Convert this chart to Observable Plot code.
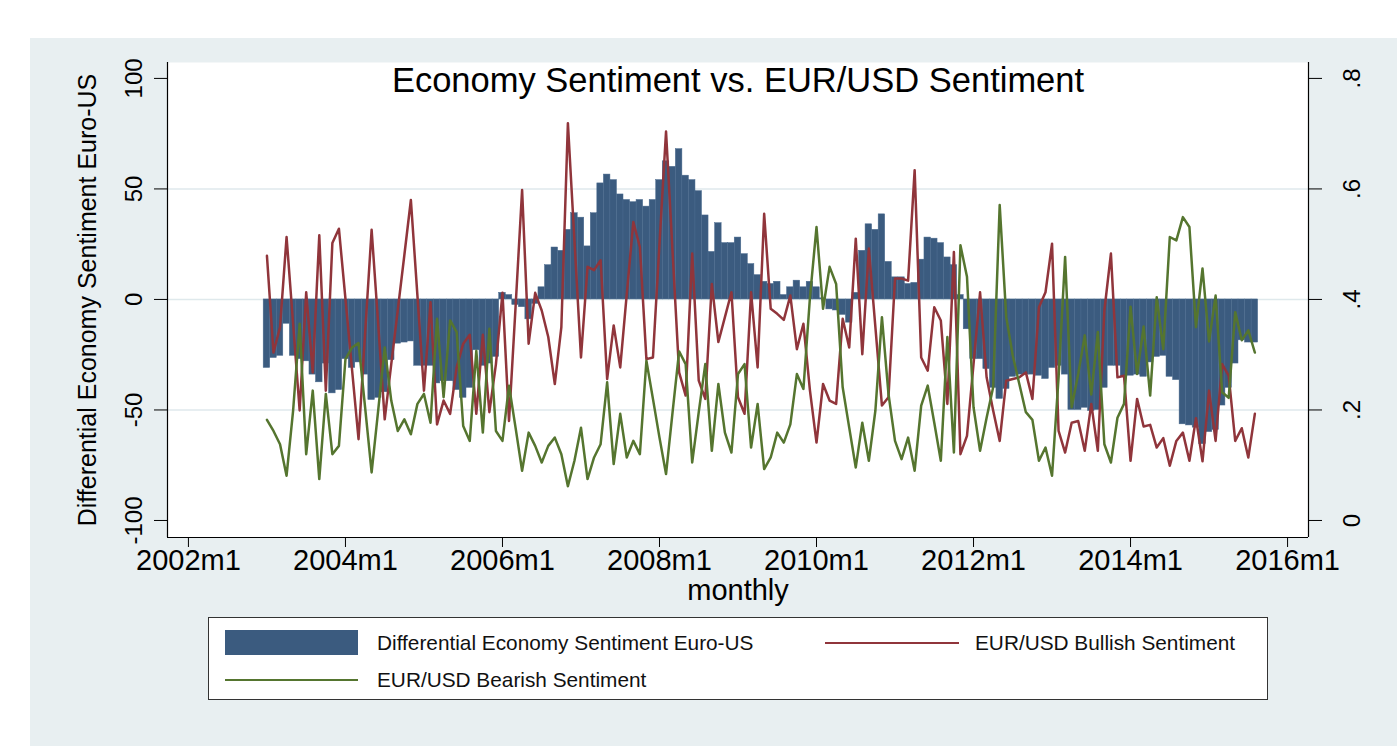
<!DOCTYPE html>
<html><head><meta charset="utf-8">
<script src="https://cdn.jsdelivr.net/npm/d3@7"></script>
<script src="https://cdn.jsdelivr.net/npm/@observablehq/plot@0.6"></script>
<style>
html,body{margin:0;padding:0;background:#fff;width:1397px;height:746px;overflow:hidden;font-family:"Liberation Sans",Arial,sans-serif;}
#panel{position:absolute;left:30px;top:38px;width:1367px;height:708px;background:#e8eff1;}
#chart{position:absolute;left:0;top:0;}
#legend{position:absolute;left:208px;top:617px;width:1058px;height:81px;background:#fff;border:1px solid #333;}
.sw{position:absolute;}
.lt{position:absolute;font-size:20.8px;line-height:22px;color:#111;white-space:nowrap;transform:translateY(-50%);}
</style></head><body>
<div id="panel"></div>
<div id="chart"></div>
<div id="legend"></div>
<script>
// ---- data (monthly, 2003m1 .. 2015m8) ----
const startYear = 2003;
const diffSentiment = [-31,-26.5,-25.5,-11,-25.5,-27,-28,-34,-37.5,-29,-42.5,-41,
 -27,-31,-28.5,-34,-45.5,-44.5,-42,-27.5,-20,-19.5,-19,-30,
 -30,-30,-38,-37,-37,-41,-44.5,-40,-23,-30,-29,-26,
 3,2,-2.5,-3.5,-9,-2,5.5,15.5,23.5,22,31.5,39,
 37,24,39,52.5,56.5,54,47.5,45,44,45,42,45,
 54,62.5,60,68,56,54,49,38,21.5,34.5,25.5,25.5,
 28,20.5,16,11,8,7,8,2,5.5,8.5,5.5,8,
 5.5,0.5,-4.5,-5,-7,-10.5,3,22,34,31.5,38.5,17,
 10,10,7,7.5,18,28,27.5,25.5,19,15.5,2,-13.5,
 -27,-27,-31.5,-40,-45,-40.5,-35,-34,-34,-34,-34.5,-36,
 -31,-30,-34,-50,-50,-49,-50.5,-50,-40,-30,-30,-35,
 -34.5,-34,-35,-28.5,-26,-25.5,-35,-36.5,-56.5,-57,-58,-65.5,
 -60,-59,-48,-40,-29,-18.5,-19.5,-19.5];
const bullish = [0.479,0.304,0.350,0.513,0.356,0.199,0.413,0.268,0.516,0.235,0.502,0.528,
 0.401,0.274,0.147,0.338,0.526,0.356,0.183,0.283,0.381,0.480,0.580,0.407,
 0.235,0.395,0.174,0.217,0.193,0.277,0.320,0.336,0.193,0.336,0.196,0.283,
 0.412,0.180,0.386,0.598,0.320,0.412,0.380,0.332,0.247,0.350,0.719,0.507,
 0.295,0.459,0.453,0.471,0.256,0.353,0.277,0.410,0.540,0.495,0.292,0.295,
 0.501,0.704,0.486,0.268,0.226,0.483,0.253,0.220,0.428,0.323,0.368,0.413,
 0.223,0.193,0.413,0.277,0.555,0.383,0.374,0.363,0.407,0.310,0.356,0.235,
 0.141,0.247,0.217,0.211,0.365,0.313,0.510,0.301,0.492,0.350,0.208,0.223,
 0.438,0.438,0.434,0.634,0.295,0.271,0.386,0.362,0.211,0.486,0.120,0.153,
 0.283,0.413,0.259,0.199,0.144,0.253,0.256,0.259,0.268,0.220,0.386,0.413,
 0.501,0.162,0.123,0.177,0.180,0.126,0.211,0.126,0.380,0.483,0.259,0.262,
 0.108,0.220,0.170,0.173,0.132,0.149,0.099,0.144,0.159,0.108,0.185,0.107,
 0.235,0.144,0.283,0.262,0.144,0.167,0.114,0.193];
const bearish = [0.182,0.162,0.138,0.081,0.199,0.356,0.120,0.235,0.075,0.229,0.120,0.135,
 0.292,0.313,0.321,0.205,0.087,0.199,0.313,0.217,0.162,0.183,0.156,0.211,
 0.229,0.177,0.365,0.223,0.362,0.341,0.171,0.144,0.307,0.159,0.347,0.162,
 0.144,0.244,0.168,0.090,0.159,0.135,0.105,0.135,0.150,0.120,0.062,0.108,
 0.168,0.075,0.114,0.138,0.250,0.102,0.193,0.114,0.144,0.120,0.289,0.220,
 0.150,0.084,0.196,0.306,0.283,0.105,0.196,0.283,0.126,0.247,0.159,0.123,
 0.265,0.283,0.132,0.211,0.093,0.114,0.159,0.141,0.174,0.265,0.238,0.404,
 0.531,0.383,0.459,0.428,0.241,0.168,0.096,0.177,0.108,0.199,0.368,0.229,
 0.144,0.111,0.150,0.090,0.208,0.244,0.177,0.108,0.332,0.123,0.498,0.441,
 0.205,0.126,0.186,0.241,0.571,0.368,0.298,0.247,0.196,0.182,0.108,0.132,
 0.081,0.259,0.477,0.205,0.265,0.335,0.228,0.341,0.138,0.105,0.186,0.211,
 0.387,0.265,0.351,0.226,0.404,0.310,0.513,0.507,0.549,0.531,0.350,0.456,
 0.324,0.407,0.232,0.222,0.377,0.326,0.344,0.304];
const xTickLabels = ["2002m1","2004m1","2006m1","2008m1","2010m1","2012m1","2014m1","2016m1"];
const leftTicks = [-100,-50,0,50,100];
const rightTicks = [0,0.2,0.4,0.6,0.8];
const rightTickLabels = ["0",".2",".4",".6",".8"];
const gridValues = [-50,0,50];
const titleText = "Economy Sentiment vs. EUR/USD Sentiment";
const xTitle = "monthly";
const yTitle = "Differential Economy Sentiment Euro-US";
const seriesNames = ["Differential Economy Sentiment Euro-US","EUR/USD Bullish Sentiment","EUR/USD Bearish Sentiment"];

// ---- styling ----
const barColor = "#3b5b7f", redColor = "#90353b", greenColor = "#55752f";
const font = "Liberation Sans, Arial, sans-serif";

// month index relative to 2002m1
const baseYear = 2002;
const rows = diffSentiment.map((d, i) => ({
  t: (startYear - baseYear) * 12 + i,
  diff: d, bull: bullish[i], bear: bearish[i]
}));
const xTicks = xTickLabels.map(s => (parseInt(s) - baseYear) * 12);
const toLeft = r => (r - 0.4) * 250; // right axis (0..0.8) onto left axis (-100..100)
const xDom = [-3.2, 171.2], yDom = [-107.7, 107.2];

const chart = Plot.plot({
  width: 1397, height: 610,
  marginLeft: 167, marginRight: 89, marginTop: 62, marginBottom: 73,
  style: {background: "transparent", fontFamily: font, color: "#000", overflow: "visible"},
  x: {domain: xDom, axis: null, label: null},
  y: {domain: yDom, axis: null, label: null},
  marks: [
    Plot.frame({fill: "white", stroke: null}),
    Plot.ruleY(gridValues, {stroke: "#dfe9ec", strokeWidth: 1.6}),
    Plot.rectY(rows, {x1: d => d.t - 0.5, x2: d => d.t + 0.5, y: "diff", fill: barColor, stroke: "#4a6a8e", strokeWidth: 0.5}),
    Plot.line(rows, {x: "t", y: d => toLeft(d.bull), stroke: redColor, strokeWidth: 2.5}),
    Plot.line(rows, {x: "t", y: d => toLeft(d.bear), stroke: greenColor, strokeWidth: 2.5}),
    Plot.ruleX([xDom[0], xDom[1]], {stroke: "#000", strokeWidth: 1.2}),
    Plot.ruleY([yDom[0]], {stroke: "#000", strokeWidth: 1.2}),
    Plot.axisX({anchor: "bottom", label: null, ticks: xTicks, tickFormat: d => xTickLabels[xTicks.indexOf(d)], tickSize: 10, tickPadding: 2, fontSize: 29, stroke: "#000"}),
    Plot.axisY({anchor: "left", label: null, ticks: leftTicks, tickSize: 13, tickFormat: () => "", stroke: "#000"}),
    Plot.axisY({anchor: "right", label: null, ticks: leftTicks, tickSize: 13, tickFormat: () => "", stroke: "#000"}),
    Plot.text(leftTicks, {y: d => d, text: d => String(d), frameAnchor: "left", dx: -33, rotate: -90, fontSize: 24, textAnchor: "middle", lineAnchor: "middle"}),
    Plot.text(rightTicks, {y: d => toLeft(d), text: (d, i) => rightTickLabels[i], frameAnchor: "right", dx: 44, rotate: -90, fontSize: 24, textAnchor: "middle", lineAnchor: "middle"}),
    Plot.text([titleText], {frameAnchor: "top", dy: 18, fontSize: 34.5, text: d => d, textAnchor: "middle", lineAnchor: "middle"}),
    Plot.text([xTitle], {frameAnchor: "bottom", dy: 53, fontSize: 29, text: d => d, textAnchor: "middle", lineAnchor: "middle"}),
    Plot.text([yTitle], {frameAnchor: "left", dx: -80, rotate: -90, fontSize: 25, text: d => d, textAnchor: "middle", lineAnchor: "middle"})
  ]
});
document.getElementById("chart").appendChild(chart);

// ---- legend ----
const lg = document.getElementById("legend");
function add(html){ lg.insertAdjacentHTML("beforeend", html); }
add(`<div class="sw" style="left:16px;top:12px;width:133px;height:25px;background:${barColor}"></div>`);
add(`<div class="lt" style="left:168px;top:25px">${seriesNames[0]}</div>`);
add(`<div class="sw" style="left:616px;top:23.5px;width:134px;height:2.5px;background:${redColor}"></div>`);
add(`<div class="lt" style="left:766px;top:25px">${seriesNames[1]}</div>`);
add(`<div class="sw" style="left:16px;top:60.5px;width:133px;height:2.5px;background:${greenColor}"></div>`);
add(`<div class="lt" style="left:168px;top:62px">${seriesNames[2]}</div>`);
</script>
</body></html>
